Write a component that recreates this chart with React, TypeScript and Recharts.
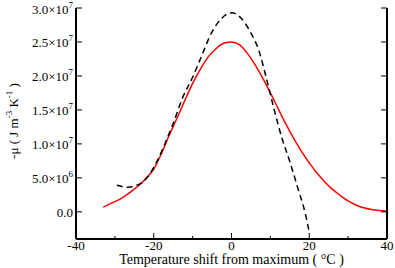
import React from "react";
import { LineChart, Line, XAxis, YAxis } from "recharts";

// red solid curve: temperature shift (°C) vs -mu (units of 1e6 J m^-3 K^-1)
const redX = [-33, -30, -28, -26, -24, -22, -20, -18, -16, -14, -12, -10, -8, -6, -4, -2, 0, 2, 4, 6, 8, 10, 12, 14, 16, 18, 20, 22, 24, 26, 28, 30, 32, 34, 36, 38, 40];
const redY = [0.7, 1.5, 2.1, 2.9, 3.8, 4.9, 6.3, 8.6, 11.3, 13.8, 16.4, 18.9, 21.0, 22.8, 24.0, 24.8, 25.0, 24.6, 23.4, 21.7, 19.7, 17.5, 15.2, 12.9, 10.8, 8.9, 7.2, 5.7, 4.4, 3.3, 2.4, 1.6, 1.0, 0.6, 0.35, 0.2, 0.1];

// black dashed curve
const blackX = [-29.5, -28, -26.5, -25, -23, -21, -19, -17, -15, -12.5, -10, -8, -5, -2.5, 0, 2.5, 5, 7, 9, 11, 13, 15, 17, 19, 20];
const blackY = [3.9, 3.7, 3.6, 3.8, 4.3, 5.6, 7.6, 10.2, 13.0, 16.9, 19.8, 22.5, 26.5, 28.5, 29.3, 28.5, 26.3, 23.8, 19.6, 15.0, 10.8, 7.4, 3.6, -0.3, -3.0];

const xTicks = [-40, -30, -20, -10, 0, 10, 20, 30, 40];
const yTicks = [0, 5e6, 1e7, 1.5e7, 2e7, 2.5e7, 3e7];

const red = redX.map((x, i) => ({ x, y: redY[i] * 1e6 }));
const black = blackX.map((x, i) => ({ x, y: blackY[i] * 1e6 }));

const font = "Liberation Serif";

function BottomTick(props: any) {
  const { x, y, payload } = props;
  const major = payload.value % 20 === 0;
  return (
    <g>
      <line x1={x} x2={x} y1={y} y2={y - (major ? 6 : 3)} stroke="#000" />
      {major && (
        <text x={x} y={y + 11} textAnchor="middle" fontSize={13} fontFamily={font} fill="#000">
          {payload.value}
        </text>
      )}
    </g>
  );
}

function TopTick(props: any) {
  const { x, y, payload } = props;
  const major = payload.value % 20 === 0;
  return <line x1={x} x2={x} y1={y} y2={y + (major ? 6 : 3)} stroke="#000" />;
}

function LeftTick(props: any) {
  const { x, y, payload } = props;
  const v = payload.value;
  let label: React.ReactNode = "0.0";
  if (v !== 0) {
    const exp = Math.floor(Math.log10(v));
    const mant = (v / Math.pow(10, exp)).toFixed(1);
    label = (
      <>
        <tspan>{mant}×10</tspan>
        <tspan dy={-6} fontSize={9}>{exp}</tspan>
      </>
    );
  }
  return (
    <g>
      <line x1={x} x2={x + 6} y1={y} y2={y} stroke="#000" />
      <text x={x - 3} y={y + 5.5} textAnchor="end" fontSize={13} fontFamily={font} fill="#000">
        {label}
      </text>
    </g>
  );
}

function RightTick(props: any) {
  const { x, y } = props;
  return <line x1={x} x2={x - 6} y1={y} y2={y} stroke="#000" />;
}

export default function App() {
  return (
    <div style={{ position: "absolute", left: 0, top: 0, width: 395, height: 268, background: "#fff" }}>
      <LineChart width={395} height={268} margin={{ top: 8, right: 0, bottom: 0, left: 0 }}>
        <XAxis
          dataKey="x"
          type="number"
          domain={[-40, 40]}
          ticks={xTicks}
          allowDataOverflow
          height={29}
          tickSize={0}
          tickMargin={0}
          tickLine={false}
          tick={<BottomTick />}
          axisLine={{ stroke: "#000", strokeWidth: 2 }}
          interval={0}
        />
        <XAxis
          xAxisId="top"
          orientation="top"
          dataKey="x"
          type="number"
          domain={[-40, 40]}
          ticks={xTicks}
          allowDataOverflow
          height={0}
          tickSize={0}
          tickMargin={0}
          tickLine={false}
          tick={<TopTick />}
          axisLine={{ stroke: "#000", strokeWidth: 2 }}
          interval={0}
        />
        <YAxis
          type="number"
          domain={[-4e6, 3e7]}
          ticks={yTicks}
          allowDataOverflow
          width={76}
          tickSize={0}
          tickMargin={0}
          tickLine={false}
          tick={<LeftTick />}
          axisLine={{ stroke: "#000", strokeWidth: 2 }}
          interval={0}
        />
        <YAxis
          yAxisId="right"
          orientation="right"
          type="number"
          domain={[-4e6, 3e7]}
          ticks={yTicks}
          allowDataOverflow
          width={8}
          tickSize={0}
          tickMargin={0}
          tickLine={false}
          tick={<RightTick />}
          axisLine={{ stroke: "#000", strokeWidth: 2 }}
          interval={0}
        />
        <Line
          data={red}
          dataKey="y"
          type="monotone"
          stroke="#ff0000"
          strokeWidth={1.5}
          dot={false}
          isAnimationActive={false}
        />
        <Line
          data={black}
          dataKey="y"
          type="monotone"
          stroke="#000"
          strokeWidth={1.5}
          strokeDasharray="6 4"
          dot={false}
          isAnimationActive={false}
        />
      </LineChart>
      <svg width={395} height={268} style={{ position: "absolute", left: 0, top: 0, pointerEvents: "none" }}>
        <text x={231.5} y={264} textAnchor="middle" fontFamily={font} fontSize={14} fill="#000">
          Temperature shift from maximum ( °C )
        </text>
        <text
          transform="translate(18,121) rotate(-90)"
          textAnchor="middle"
          fontFamily={font}
          fontSize={13}
          fill="#000"
        >
          -μ  ( J m<tspan dy={-6} fontSize={9}>-3</tspan>
          <tspan dy={6}> K</tspan>
          <tspan dy={-6} fontSize={9}>-1</tspan>
          <tspan dy={6}> )</tspan>
        </text>
      </svg>
    </div>
  );
}
